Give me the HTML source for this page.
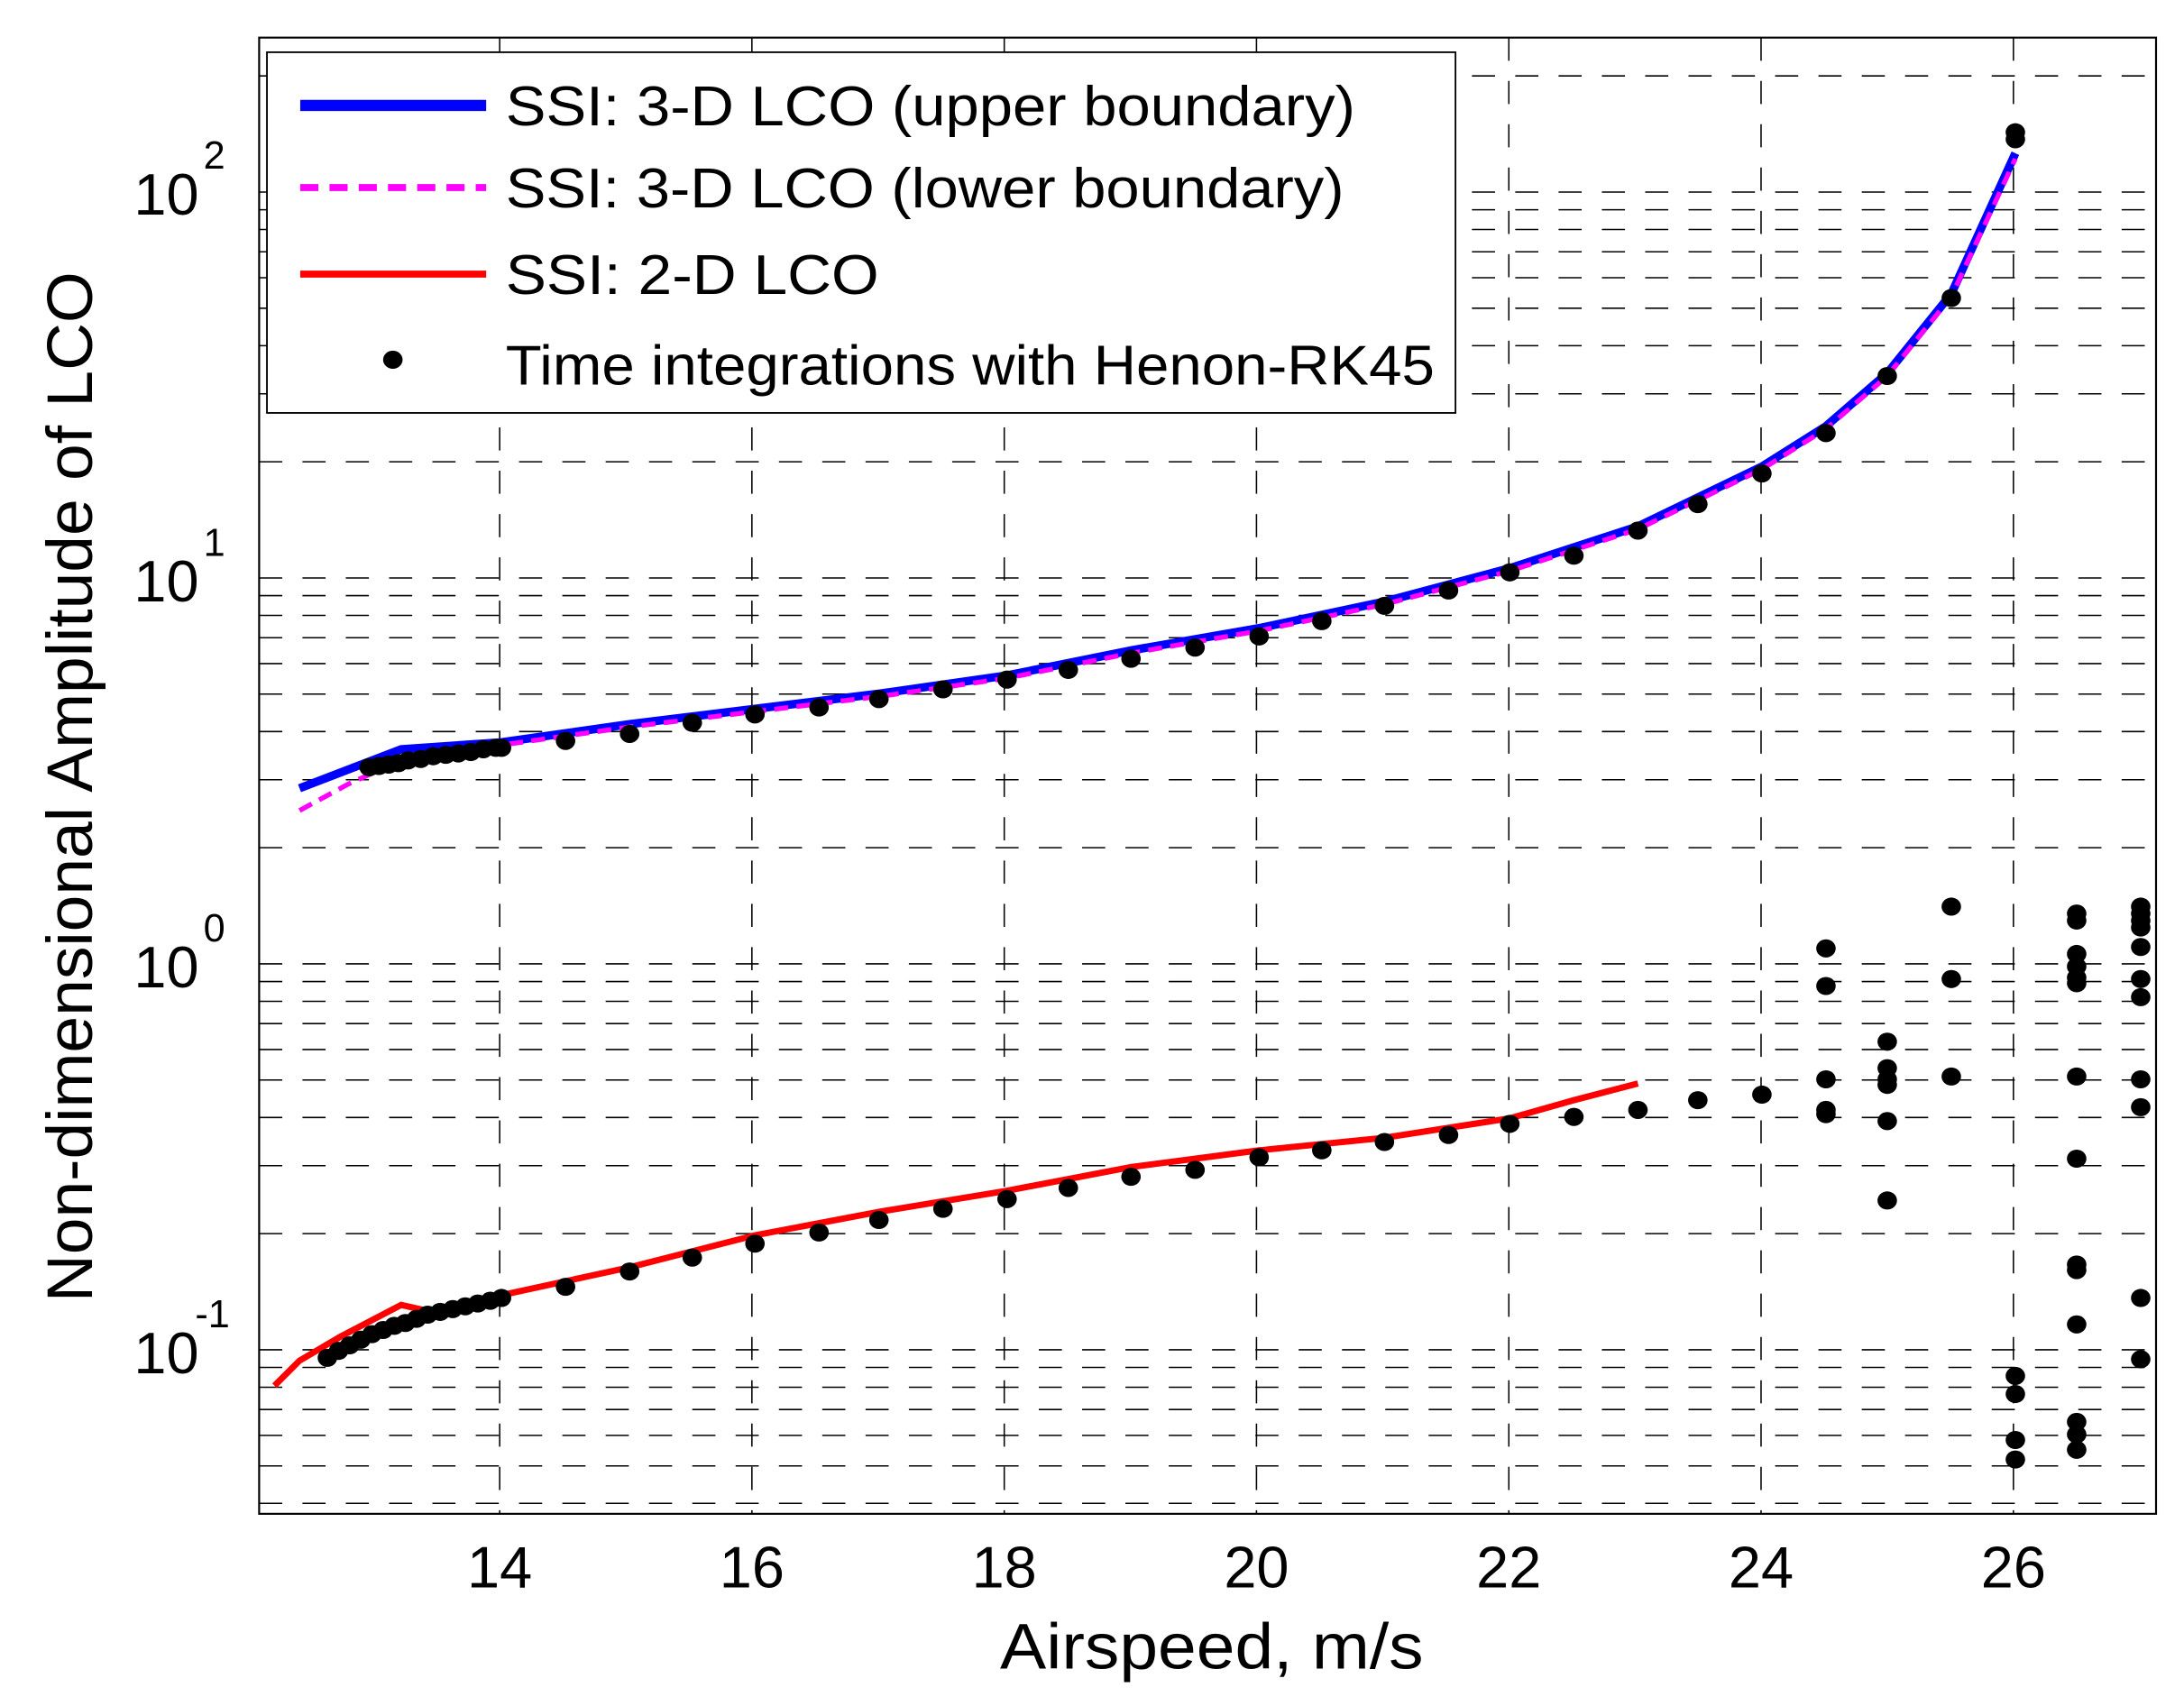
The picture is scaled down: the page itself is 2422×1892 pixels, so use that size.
<!DOCTYPE html>
<html><head><meta charset="utf-8"><style>
html,body{margin:0;padding:0;background:#fff;}
svg{display:block;}
text{font-family:"Liberation Sans",sans-serif;fill:#000;}
</style></head><body>
<svg width="2422" height="1892" viewBox="0 0 1568 1225" xmlns="http://www.w3.org/2000/svg">
<rect width="1568" height="1225" fill="#fff"/>
<g stroke="#000" stroke-width="1" stroke-dasharray="16.6 14.5" fill="none">
<path d="M358.7 27V1087M539.8 27V1087M721 27V1087M902.1 27V1087M1083.3 27V1087M1264.4 27V1087M1445.6 27V1087"/>
<path d="M186 1079.5H1548M186 1052.6H1548M186 1030.7H1548M186 1012.1H1548M186 996.1H1548M186 981.9H1548M186 969.2H1548
M186 885.8H1548M186 837H1548M186 802.4H1548M186 775.5H1548M186 753.6H1548M186 735H1548M186 719H1548M186 704.8H1548M186 692.1H1548
M186 608.7H1548M186 559.9H1548M186 525.3H1548M186 498.4H1548M186 476.5H1548M186 457.9H1548M186 441.9H1548M186 427.7H1548M186 415H1548
M186 331.6H1548M186 282.8H1548M186 248.2H1548M186 221.3H1548M186 199.4H1548M186 180.8H1548M186 164.8H1548M186 150.6H1548M186 137.9H1548M186 54.5H1548"/>
</g>
<rect x="186" y="27" width="1362" height="1060" fill="none" stroke="#000" stroke-width="1.4"/>
<polyline fill="none" stroke="#0000ff" stroke-width="6" points="215,566 288,538 360,533 452,520 542,509 632,498 723,485 812,467 904,451 994,432 1084,408 1176,378 1265,335 1311,306 1355,268 1401,211 1447,110"/>
<polyline fill="none" stroke="#ff00ff" stroke-width="3.5" stroke-dasharray="10 6" points="215,582 250,563 290,545 360,535 452,522 542,511 632,500 723,487 812,469 904,453 994,434 1084,410 1176,380 1265,337 1311,308 1355,270 1401,213 1447,114"/>
<polyline fill="none" stroke="#ff0000" stroke-width="4.5" points="197,995 215,977 244,960 288,937 310,942 360,930 452,910 542,887 632,870 723,855 812,838 904,826 994,817 1084,803 1130,790 1176,778"/>
<g fill="#000">
<ellipse cx="265" cy="551" rx="7" ry="6.5"/><ellipse cx="272" cy="550" rx="7" ry="6.5"/><ellipse cx="279" cy="549" rx="7" ry="6.5"/><ellipse cx="286" cy="548" rx="7" ry="6.5"/><ellipse cx="293" cy="546" rx="7" ry="6.5"/><ellipse cx="302" cy="545" rx="7" ry="6.5"/><ellipse cx="311" cy="543" rx="7" ry="6.5"/><ellipse cx="320" cy="542" rx="7" ry="6.5"/><ellipse cx="329" cy="541" rx="7" ry="6.5"/><ellipse cx="338" cy="540" rx="7" ry="6.5"/><ellipse cx="347" cy="538" rx="7" ry="6.5"/><ellipse cx="356" cy="537" rx="7" ry="6.5"/><ellipse cx="360" cy="537" rx="7" ry="6.5"/>
<ellipse cx="406" cy="532" rx="7" ry="6.5"/><ellipse cx="452" cy="527" rx="7" ry="6.5"/><ellipse cx="497" cy="519" rx="7" ry="6.5"/><ellipse cx="542" cy="513" rx="7" ry="6.5"/><ellipse cx="588" cy="508" rx="7" ry="6.5"/><ellipse cx="631" cy="502" rx="7" ry="6.5"/><ellipse cx="677" cy="495" rx="7" ry="6.5"/><ellipse cx="723" cy="488" rx="7" ry="6.5"/><ellipse cx="767" cy="481" rx="7" ry="6.5"/><ellipse cx="812" cy="473" rx="7" ry="6.5"/><ellipse cx="858" cy="465" rx="7" ry="6.5"/><ellipse cx="904" cy="457" rx="7" ry="6.5"/><ellipse cx="949" cy="446" rx="7" ry="6.5"/><ellipse cx="994" cy="435" rx="7" ry="6.5"/><ellipse cx="1040" cy="424" rx="7" ry="6.5"/><ellipse cx="1084" cy="411" rx="7" ry="6.5"/><ellipse cx="1130" cy="399" rx="7" ry="6.5"/><ellipse cx="1176" cy="381" rx="7" ry="6.5"/><ellipse cx="1219" cy="362" rx="7" ry="6.5"/><ellipse cx="1265" cy="340" rx="7" ry="6.5"/><ellipse cx="1311" cy="311" rx="7" ry="6.5"/><ellipse cx="1355" cy="270" rx="7" ry="6.5"/><ellipse cx="1401" cy="214" rx="7" ry="6.5"/><ellipse cx="1447" cy="95" rx="7" ry="6.5"/><ellipse cx="1447" cy="100" rx="7" ry="6.5"/>
<ellipse cx="235" cy="975" rx="7" ry="6.5"/><ellipse cx="243" cy="970" rx="7" ry="6.5"/><ellipse cx="251" cy="966" rx="7" ry="6.5"/><ellipse cx="259" cy="962" rx="7" ry="6.5"/><ellipse cx="267" cy="958" rx="7" ry="6.5"/><ellipse cx="275" cy="955" rx="7" ry="6.5"/><ellipse cx="283" cy="952" rx="7" ry="6.5"/><ellipse cx="291" cy="950" rx="7" ry="6.5"/><ellipse cx="299" cy="947" rx="7" ry="6.5"/><ellipse cx="307" cy="944" rx="7" ry="6.5"/><ellipse cx="316" cy="942" rx="7" ry="6.5"/><ellipse cx="325" cy="940" rx="7" ry="6.5"/><ellipse cx="334" cy="938" rx="7" ry="6.5"/><ellipse cx="343" cy="936" rx="7" ry="6.5"/><ellipse cx="352" cy="934" rx="7" ry="6.5"/><ellipse cx="360" cy="932" rx="7" ry="6.5"/>
<ellipse cx="406" cy="924" rx="7" ry="6.5"/><ellipse cx="452" cy="913" rx="7" ry="6.5"/><ellipse cx="497" cy="903" rx="7" ry="6.5"/><ellipse cx="542" cy="893" rx="7" ry="6.5"/><ellipse cx="588" cy="885" rx="7" ry="6.5"/><ellipse cx="631" cy="876" rx="7" ry="6.5"/><ellipse cx="677" cy="868" rx="7" ry="6.5"/><ellipse cx="723" cy="861" rx="7" ry="6.5"/><ellipse cx="767" cy="853" rx="7" ry="6.5"/><ellipse cx="812" cy="845" rx="7" ry="6.5"/><ellipse cx="858" cy="840" rx="7" ry="6.5"/><ellipse cx="904" cy="831" rx="7" ry="6.5"/><ellipse cx="949" cy="826" rx="7" ry="6.5"/><ellipse cx="994" cy="820" rx="7" ry="6.5"/><ellipse cx="1040" cy="815" rx="7" ry="6.5"/><ellipse cx="1084" cy="807" rx="7" ry="6.5"/><ellipse cx="1130" cy="802" rx="7" ry="6.5"/><ellipse cx="1176" cy="797" rx="7" ry="6.5"/><ellipse cx="1219" cy="790" rx="7" ry="6.5"/><ellipse cx="1265" cy="786" rx="7" ry="6.5"/>
<ellipse cx="1311" cy="681" rx="7" ry="6.5"/><ellipse cx="1311" cy="708" rx="7" ry="6.5"/><ellipse cx="1311" cy="775" rx="7" ry="6.5"/><ellipse cx="1311" cy="797" rx="7" ry="6.5"/><ellipse cx="1311" cy="800" rx="7" ry="6.5"/>
<ellipse cx="1355" cy="748" rx="7" ry="6.5"/><ellipse cx="1355" cy="767" rx="7" ry="6.5"/><ellipse cx="1355" cy="775" rx="7" ry="6.5"/><ellipse cx="1355" cy="779" rx="7" ry="6.5"/><ellipse cx="1355" cy="805" rx="7" ry="6.5"/><ellipse cx="1355" cy="862" rx="7" ry="6.5"/>
<ellipse cx="1401" cy="651" rx="7" ry="6.5"/><ellipse cx="1401" cy="703" rx="7" ry="6.5"/><ellipse cx="1401" cy="773" rx="7" ry="6.5"/>
<ellipse cx="1447" cy="988" rx="7" ry="6.5"/><ellipse cx="1447" cy="1001" rx="7" ry="6.5"/><ellipse cx="1447" cy="1034" rx="7" ry="6.5"/><ellipse cx="1447" cy="1048" rx="7" ry="6.5"/>
<ellipse cx="1491" cy="656" rx="7" ry="6.5"/><ellipse cx="1491" cy="661" rx="7" ry="6.5"/><ellipse cx="1491" cy="685" rx="7" ry="6.5"/><ellipse cx="1491" cy="694" rx="7" ry="6.5"/><ellipse cx="1491" cy="702" rx="7" ry="6.5"/><ellipse cx="1491" cy="706" rx="7" ry="6.5"/><ellipse cx="1491" cy="773" rx="7" ry="6.5"/><ellipse cx="1491" cy="832" rx="7" ry="6.5"/><ellipse cx="1491" cy="908" rx="7" ry="6.5"/><ellipse cx="1491" cy="912" rx="7" ry="6.5"/><ellipse cx="1491" cy="951" rx="7" ry="6.5"/><ellipse cx="1491" cy="1021" rx="7" ry="6.5"/><ellipse cx="1491" cy="1030" rx="7" ry="6.5"/><ellipse cx="1491" cy="1041" rx="7" ry="6.5"/>
<ellipse cx="1537" cy="651" rx="7" ry="6.5"/><ellipse cx="1537" cy="656" rx="7" ry="6.5"/><ellipse cx="1537" cy="661" rx="7" ry="6.5"/><ellipse cx="1537" cy="666" rx="7" ry="6.5"/><ellipse cx="1537" cy="680" rx="7" ry="6.5"/><ellipse cx="1537" cy="703" rx="7" ry="6.5"/><ellipse cx="1537" cy="716" rx="7" ry="6.5"/><ellipse cx="1537" cy="775" rx="7" ry="6.5"/><ellipse cx="1537" cy="795" rx="7" ry="6.5"/><ellipse cx="1537" cy="932" rx="7" ry="6.5"/><ellipse cx="1537" cy="976" rx="7" ry="6.5"/>
</g>
<rect x="191.6" y="37.5" width="853.4" height="259" fill="#fff" stroke="#000" stroke-width="1.2"/>
<line x1="215.5" y1="75.7" x2="349" y2="75.7" stroke="#0000ff" stroke-width="8"/>
<line x1="215.5" y1="134.7" x2="349" y2="134.7" stroke="#ff00ff" stroke-width="5" stroke-dasharray="13 8"/>
<line x1="215.5" y1="196.8" x2="349" y2="196.8" stroke="#ff0000" stroke-width="5"/>
<ellipse cx="282" cy="258.3" rx="7" ry="6.5" fill="#000"/>
<g font-size="40">
<text x="363" y="90" textLength="610" lengthAdjust="spacingAndGlyphs">SSI: 3-D LCO (upper boundary)</text>
<text x="363" y="149" textLength="602" lengthAdjust="spacingAndGlyphs">SSI: 3-D LCO (lower boundary)</text>
<text x="363" y="211" textLength="268" lengthAdjust="spacingAndGlyphs">SSI: 2-D LCO</text>
<text x="363" y="276" textLength="667" lengthAdjust="spacingAndGlyphs">Time integrations with Henon-RK45</text>
</g>
<g font-size="42" text-anchor="middle">
<text x="358.7" y="1140">14</text><text x="539.8" y="1140">16</text><text x="721" y="1140">18</text><text x="902.1" y="1140">20</text><text x="1083.3" y="1140">22</text><text x="1264.4" y="1140">24</text><text x="1445.6" y="1140">26</text>
</g>
<g font-size="42">
<text x="96" y="154">10</text><text x="146" y="121" font-size="28">2</text>
<text x="96" y="432">10</text><text x="146" y="399" font-size="28">1</text>
<text x="96" y="709">10</text><text x="146" y="676" font-size="28">0</text>
<text x="96" y="986">10</text><text x="140" y="953" font-size="28">-1</text>
</g>
<text x="870" y="1198" font-size="46" text-anchor="middle" textLength="304" lengthAdjust="spacingAndGlyphs">Airspeed, m/s</text>
<text transform="translate(66,565) rotate(-90)" font-size="46" text-anchor="middle" textLength="740" lengthAdjust="spacingAndGlyphs">Non-dimensional Amplitude of LCO</text>
</svg>
</body></html>
